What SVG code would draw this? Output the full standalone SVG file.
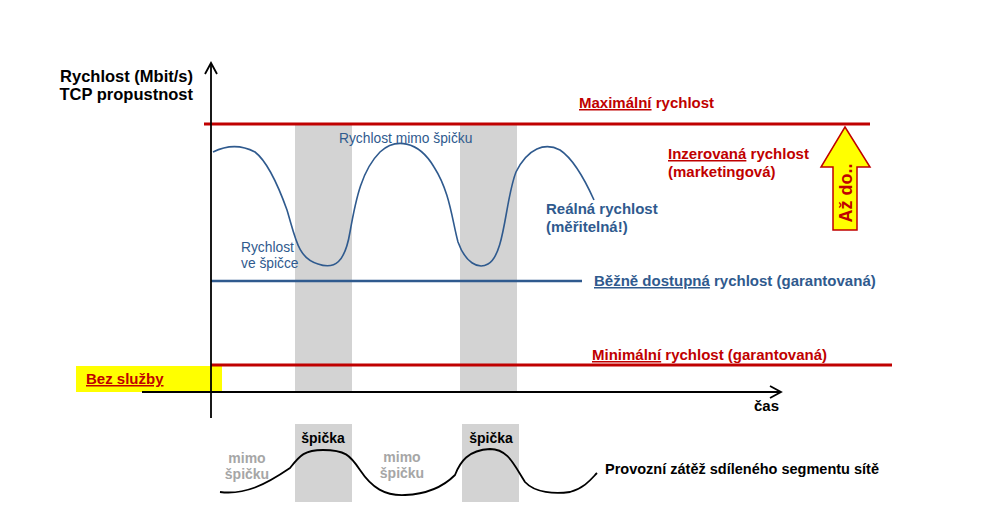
<svg xmlns="http://www.w3.org/2000/svg" width="1000" height="531" viewBox="0 0 1000 531">
<style>
text{font-family:"Liberation Sans",Arial,sans-serif}
.b{font-weight:bold}
.red{fill:#c00000}
.blue{fill:#2f5a8e}
.blk{fill:#000}
.gry{fill:#a6a6a6}
.u{text-decoration:underline}
.band{fill:#d3d3d3}
</style>
<rect width="1000" height="531" fill="#fff"/>
<g id="bands">
<rect class="band" x="295" y="124" width="57" height="268"/>
<rect class="band" x="460" y="124" width="57" height="268"/>
<rect class="band" x="295" y="424" width="57" height="78"/>
<rect class="band" x="462" y="424" width="57" height="78"/>
</g>
<g id="bez-sluzby">
<rect x="76" y="366" width="146" height="26" fill="#ffff00"/>
<text x="86" y="384" font-size="15" class="b red u">Bez služby</text>
</g>
<g id="connectors" fill="none">
<line x1="204" y1="124" x2="870" y2="124" stroke="#c00000" stroke-width="3"/>
<line x1="211" y1="365" x2="892" y2="365" stroke="#c00000" stroke-width="3"/>
<line x1="211" y1="281" x2="582" y2="281" stroke="#2f5a8e" stroke-width="2.5"/>
<path d="M213,152 C225,146 240,144 255,152 C268,162 278,185 287,210 C296,240 298,258 318,264 C335,270 345,262 350,232 C356,198 362,170 380,152 C395,138 418,140 434,167 C450,192 452,220 458,242 C465,262 478,270 488,264 C505,255 505,200 516,172 C528,148 545,142 560,150 C572,158 585,180 594,200" stroke="#2f5a8e" stroke-width="1.6"/>
<path d="M220,492 C245,495 265,485 290,468 C300,455 305,450 323,450 C345,450 350,455 360,470 C372,488 385,496 405,495 C430,494 445,485 455,475 C460,462 468,450 490,449 C508,449 514,465 525,482 C535,493 555,494 570,492 C585,488 592,478 597,473" stroke="#000" stroke-width="1.8"/>
<line x1="211" y1="418" x2="211" y2="63" stroke="#000" stroke-width="1.8"/>
<polyline points="205,74 211,63 217,74" stroke="#000" stroke-width="1.8"/>
<line x1="142" y1="392" x2="781" y2="392" stroke="#000" stroke-width="1.8"/>
<polyline points="770,386 781,392 770,398" stroke="#000" stroke-width="1.8"/>
</g>
<g id="y-axis-label">
<text x="193" y="82" font-size="16.5" text-anchor="end" class="b blk">Rychlost (Mbit/s)</text>
<text x="193" y="100" font-size="16.5" text-anchor="end" class="b blk">TCP propustnost</text>
</g>
<g id="max">
<text x="579" y="108" font-size="15" class="b red"><tspan class="u">Maximální</tspan> rychlost</text>
</g>
<g id="inzerovana">
<text x="668" y="159" font-size="15" class="b red"><tspan class="u">Inzerovaná</tspan> rychlost</text>
<text x="668" y="177" font-size="15" class="b red">(marketingová)</text>
</g>
<g id="az-do">
<path d="M845,127 L870,167 L857,167 L857,230 L833,230 L833,167 L821,167 Z" fill="#ffff00" stroke="#c00000" stroke-width="1.5"/>
<text transform="translate(852,193) rotate(-90)" font-size="18" text-anchor="middle" class="b red">Až do..</text>
</g>
<g id="realna">
<text x="546" y="214" font-size="15" class="b blue">Reálná rychlost</text>
<text x="546" y="232" font-size="15" class="b blue">(měřitelná!)</text>
</g>
<g id="mimo-label">
<text x="339" y="143" font-size="13.8" class="blue">Rychlost mimo špičku</text>
</g>
<g id="ve-spicce">
<text x="241" y="252" font-size="13.8" class="blue">Rychlost</text>
<text x="241" y="268" font-size="13.8" class="blue">ve špičce</text>
</g>
<g id="bezne">
<text x="594" y="286" font-size="15" class="b blue"><tspan class="u">Běžně dostupná</tspan> rychlost (garantovaná)</text>
</g>
<g id="min">
<text x="592" y="360" font-size="15" class="b red"><tspan class="u">Minimální</tspan> rychlost (garantovaná)</text>
</g>
<g id="cas">
<text x="754" y="411" font-size="15" class="b blk">čas</text>
</g>
<g id="load-labels">
<text x="323" y="443" font-size="14" text-anchor="middle" class="b blk">špička</text>
<text x="491" y="443" font-size="14" text-anchor="middle" class="b blk">špička</text>
<text x="247" y="463" font-size="14" text-anchor="middle" class="b gry">mimo</text>
<text x="247" y="479" font-size="14" text-anchor="middle" class="b gry">špičku</text>
<text x="402" y="462" font-size="14" text-anchor="middle" class="b gry">mimo</text>
<text x="402" y="478" font-size="14" text-anchor="middle" class="b gry">špičku</text>
<text x="605" y="474" font-size="14.5" class="b blk">Provozní zátěž sdíleného segmentu sítě</text>
</g>
</svg>
